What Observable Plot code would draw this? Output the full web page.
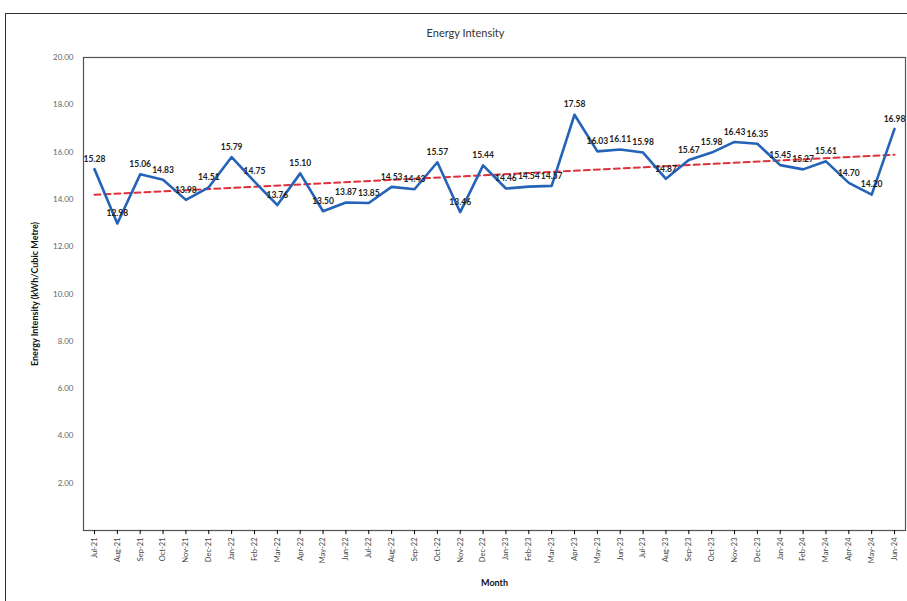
<!DOCTYPE html>
<html><head><meta charset="utf-8">
<script src="https://cdn.jsdelivr.net/npm/d3@7"></script>
<script src="https://cdn.jsdelivr.net/npm/@observablehq/plot@0.6"></script>
<style>
body{margin:0;background:#fff;}
#wrap{position:relative;width:907px;height:601px;overflow:hidden;}
#border{position:absolute;left:5px;top:13px;width:920px;height:620px;border:1.5px solid #333;box-sizing:border-box;}
#chart{position:absolute;left:0;top:0;}
</style></head>
<body><div id="wrap"><div id="border"></div><div id="chart"></div></div>
<script>
const months = ["Jul-21","Aug-21","Sep-21","Oct-21","Nov-21","Dec-21","Jan-22","Feb-22","Mar-22","Apr-22","May-22","Jun-22","Jul-22","Aug-22","Sep-22","Oct-22","Nov-22","Dec-22","Jan-23","Feb-23","Mar-23","Apr-23","May-23","Jun-23","Jul-23","Aug-23","Sep-23","Oct-23","Nov-23","Dec-23","Jan-24","Feb-24","Mar-24","Apr-24","May-24","Jun-24"];
const intensity = [15.28,12.98,15.06,14.83,13.98,14.51,15.79,14.75,13.76,15.10,13.50,13.87,13.85,14.53,14.43,15.57,13.46,15.44,14.46,14.54,14.57,17.58,16.03,16.11,15.98,14.87,15.67,15.98,16.43,16.35,15.45,15.27,15.61,14.70,14.20,16.98];
const yTicks = [2,4,6,8,10,12,14,16,18,20];
const data = months.map((m,i)=>({month:m, idx:i, value:intensity[i]}));
const font = "Lato, 'Open Sans', sans-serif";
const chart = Plot.plot({
  width:907, height:601,
  marginLeft:83, marginRight:2, marginTop:57, marginBottom:71,
  style:{fontFamily:font, fontSize:"8px", background:"transparent"},
  x:{type:"point", domain:months, padding:0.48, round:false},
  y:{domain:[0,20]},
  marks:[
    Plot.frame({stroke:"#555", strokeWidth:1.2}),
    Plot.axisY({ticks:yTicks, tickFormat:d=>d.toFixed(2), tickSize:0, tickPadding:10, fill:"#666", fontSize:8,
      label:"Energy Intensity (kWh/Cubic Metre)", labelAnchor:"center", labelOffset:52, labelArrow:"none"}),
    Plot.axisX({tickRotate:-90, tickSize:4, tickPadding:3, fill:"#444", fontSize:7.5,
      label:"Month", labelAnchor:"center", labelOffset:55, labelArrow:"none"}),
    Plot.linearRegressionY(data, {x:"month", y:"value", ci:0, stroke:"#e0303a", strokeWidth:2, strokeDasharray:"6,4"}),
    Plot.line(data, {x:"month", y:"value", stroke:"#2563b8", strokeWidth:2.6}),
    Plot.text(data, {x:"month", y:"value", text:d=>d.value.toFixed(2), dy:-10, fontWeight:"bold", fill:"#222", fontSize:8.5}),
    Plot.text(["Energy Intensity"], {frameAnchor:"top", dx:-29, dy:-28, fontSize:11, fill:"#333"})
  ]
});
chart.querySelectorAll("[aria-label='y-axis label'] text, [aria-label='x-axis label'] text").forEach(t=>{t.setAttribute("font-weight","bold");t.setAttribute("fill","#111");t.setAttribute("font-size","9");});
document.getElementById("chart").appendChild(chart);
</script></body></html>
